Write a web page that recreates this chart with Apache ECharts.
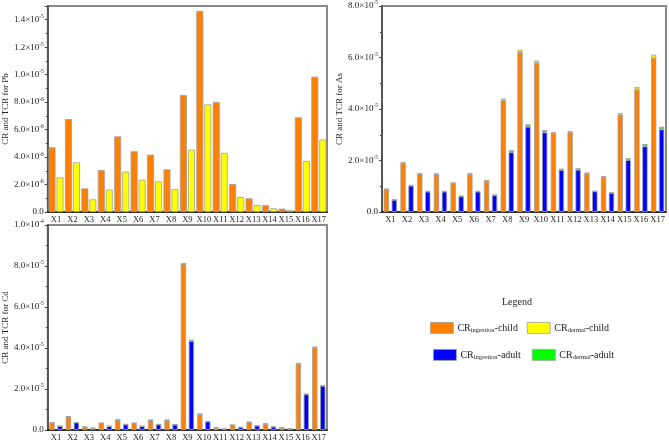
<!DOCTYPE html>
<html>
<head>
<meta charset="utf-8">
<script src="https://cdn.jsdelivr.net/npm/echarts@6/dist/echarts.min.js"></script>
<style>html,body{margin:0;padding:0;background:#fff}#c{width:669px;height:442px}</style>
</head>
<body>
<div id="c"></div>
<script>
var categories = ['X1','X2','X3','X4','X5','X6','X7','X8','X9','X10','X11','X12','X13','X14','X15','X16','X17'];

// Pb (two side-by-side bars)
var pbIngChild = [4.71e-6,6.77e-6,1.72e-6,3.06e-6,5.51e-6,4.42e-6,4.17e-6,3.11e-6,8.52e-6,1.464e-5,8.01e-6,2.04e-6,1.00e-6,0.49e-6,0.24e-6,6.89e-6,9.85e-6];
var pbDermChild = [2.52e-6,3.62e-6,0.92e-6,1.63e-6,2.94e-6,2.35e-6,2.23e-6,1.67e-6,4.54e-6,7.84e-6,4.30e-6,1.09e-6,0.51e-6,0.27e-6,0.15e-6,3.71e-6,5.27e-6];

// As (stacked)
var asIngChild  = [0.88e-5,1.90e-5,1.48e-5,1.47e-5,1.12e-5,1.48e-5,1.21e-5,4.34e-5,6.21e-5,5.79e-5,3.07e-5,3.10e-5,1.50e-5,1.37e-5,3.78e-5,4.76e-5,5.99e-5];
var asDermChild = [0.02e-5,0.03e-5,0.02e-5,0.02e-5,0.02e-5,0.02e-5,0.02e-5,0.06e-5,0.09e-5,0.09e-5,0.03e-5,0.03e-5,0.02e-5,0.02e-5,0.06e-5,0.09e-5,0.12e-5];
var asIngAdult  = [0.47e-5,1.02e-5,0.79e-5,0.79e-5,0.61e-5,0.79e-5,0.65e-5,2.32e-5,3.31e-5,3.09e-5,1.63e-5,1.64e-5,0.80e-5,0.74e-5,2.02e-5,2.55e-5,3.21e-5];
var asDermAdult = [0.02e-5,0.03e-5,0.02e-5,0.02e-5,0.02e-5,0.02e-5,0.02e-5,0.08e-5,0.10e-5,0.09e-5,0.05e-5,0.06e-5,0.02e-5,0.02e-5,0.07e-5,0.09e-5,0.10e-5];

// Cd (stacked)
var cdIngChild  = [0.35e-5,0.65e-5,0.15e-5,0.33e-5,0.49e-5,0.33e-5,0.48e-5,0.48e-5,8.10e-5,0.77e-5,0.11e-5,0.24e-5,0.38e-5,0.30e-5,0.11e-5,3.22e-5,4.03e-5];
var cdDermChild = [0.01e-5,0.01e-5,0.005e-5,0.01e-5,0.01e-5,0.01e-5,0.01e-5,0.01e-5,0.04e-5,0.01e-5,0.005e-5,0.005e-5,0.01e-5,0.01e-5,0.005e-5,0.03e-5,0.03e-5];
var cdIngAdult  = [0.19e-5,0.36e-5,0.09e-5,0.18e-5,0.27e-5,0.18e-5,0.27e-5,0.26e-5,4.34e-5,0.41e-5,0.06e-5,0.13e-5,0.21e-5,0.16e-5,0.06e-5,1.74e-5,2.15e-5];
var cdDermAdult = [0.01e-5,0.01e-5,0.005e-5,0.01e-5,0.01e-5,0.01e-5,0.01e-5,0.01e-5,0.07e-5,0.01e-5,0.005e-5,0.005e-5,0.01e-5,0.01e-5,0.005e-5,0.03e-5,0.04e-5];

// tick labels: [mantissa, exponent]
var pbTicks = [['0.0',''],['2.0×10','-6'],['4.0×10','-6'],['6.0×10','-6'],['8.0×10','-6'],['1.0×10','-5'],['1.2×10','-5'],['1.4×10','-5']];
var asTicks = [['0.0',''],['2.0×10','-5'],['4.0×10','-5'],['6.0×10','-5'],['8.0×10','-5']];
var cdTicks = [['0.0',''],['2.0×10','-5'],['4.0×10','-5'],['6.0×10','-5'],['8.0×10','-5'],['1.0×10','-4']];

var seriesNames = ['CR_ingestion-child','CR_dermal-child','CR_ingestion-adult','CR_dermal-adult'];
var legendLabels = {
  'CR_ingestion-child': '{m|CR}{s|ingestion}{m|-child}',
  'CR_dermal-child': '{m|CR}{s|dermal}{m|-child}',
  'CR_ingestion-adult': '{m|CR}{s|ingestion}{m|-adult}',
  'CR_dermal-adult': '{m|CR}{s|dermal}{m|-adult}'
};
var colors = {'CR_ingestion-child':'#FF8000','CR_dermal-child':'#FFFF00','CR_ingestion-adult':'#0000FF','CR_dermal-adult':'#00FF00'};

var FONT = '"Liberation Serif", "Times New Roman", serif';
var tickRich = {
  m: {fontFamily: FONT, fontSize: 9, color: '#222'},
  e: {fontFamily: FONT, fontSize: 5.5, color: '#222', verticalAlign: 'top', padding: [0,0,6,0]}
};
function tickFmt(ticks, interval) {
  return function (v) {
    var i = Math.round(v / interval);
    if (Math.abs(v - i * interval) > interval * 1e-3 || i >= ticks.length) return '';
    var t = ticks[i];
    return t[1] ? '{m|' + t[0] + '}{e|' + t[1] + '}' : '{m|' + t[0] + '}';
  };
}

var grids = [
  {left: 42, top: 6, width: 285, height: 206},
  {left: 382, top: 5, width: 284, height: 207},
  {left: 42, top: 225, width: 285, height: 206}
];
grids.forEach(function (g) { g.show = true; g.borderColor = '#888'; g.borderWidth = 2; g.backgroundColor = 'transparent'; });

function xAx(i) {
  return {
    type: 'category', gridIndex: i, data: categories,
    axisLine: {lineStyle: {color: '#111', width: 1.5}},
    axisTick: {show: false},
    axisLabel: {fontFamily: FONT, fontSize: 8.5, color: '#222', margin: 3, interval: 0}
  };
}
function yAx(i, max, interval, ticks, name, nameGap) {
  return {
    type: 'value', gridIndex: i, min: 0, max: max, interval: interval,
    name: name, nameLocation: 'middle', nameGap: nameGap,
    nameTextStyle: {fontFamily: FONT, fontSize: 9, color: '#222'},
    axisLine: {show: true, lineStyle: {color: '#444', width: 1.5}},
    axisTick: {show: true, length: 3, lineStyle: {color: '#444'}},
    minorTick: {show: true, splitNumber: 2, length: 2, lineStyle: {color: '#444'}},
    splitLine: {show: false},
    axisLabel: {formatter: tickFmt(ticks, interval), rich: tickRich, margin: 4}
  };
}

var border = {borderColor: '#a0a0a0', borderWidth: 0.8};
function bar(name, xi, data, stack, bw, gap) {
  var s = {
    name: name, type: 'bar', xAxisIndex: xi, yAxisIndex: xi, data: data,
    barWidth: bw, barGap: gap,
    itemStyle: Object.assign({color: colors[name]}, border)
  };
  if (stack) s.stack = stack;
  return s;
}

var series = [
  bar('CR_ingestion-child', 0, pbIngChild, null, 7, '14%'),
  bar('CR_dermal-child', 0, pbDermChild, null, 7, '14%'),

  bar('CR_ingestion-child', 1, asIngChild, 'asC', 5.3, '50%'),
  bar('CR_dermal-child', 1, asDermChild, 'asC', 5.3, '50%'),
  bar('CR_ingestion-adult', 1, asIngAdult, 'asA', 5.3, '50%'),
  bar('CR_dermal-adult', 1, asDermAdult, 'asA', 5.3, '50%'),

  bar('CR_ingestion-child', 2, cdIngChild, 'cdC', 5.3, '50%'),
  bar('CR_dermal-child', 2, cdDermChild, 'cdC', 5.3, '50%'),
  bar('CR_ingestion-adult', 2, cdIngAdult, 'cdA', 5.3, '50%'),
  bar('CR_dermal-adult', 2, cdDermAdult, 'cdA', 5.3, '50%')
];

var legendRich = {
  m: {fontFamily: FONT, fontSize: 10, color: '#222'},
  s: {fontFamily: FONT, fontSize: 6.5, color: '#222', verticalAlign: 'bottom', padding: [5,0,0,0]}
};
function legend(names, left, top, gap) {
  return {
    data: names, left: left, top: top, orient: 'horizontal',
    itemWidth: 23, itemHeight: 11, itemGap: gap,
    icon: 'rect', selectedMode: false,
    formatter: function (n) { return legendLabels[n]; },
    textStyle: {rich: legendRich, padding: [0,0,0,-1]},
    itemStyle: {borderColor: '#a0a0a0', borderWidth: 0.8}
  };
}

var chart = echarts.init(document.getElementById('c'), null, {renderer: 'canvas'});
chart.setOption({
  animation: false,
  backgroundColor: '#fff',
  grid: grids,
  xAxis: [xAx(0), xAx(1), xAx(2)],
  yAxis: [
    yAx(0, 1.5e-5, 2e-6, pbTicks, 'CR and TCR for Pb', 32),
    yAx(1, 8e-5, 2e-5, asTicks, 'CR and TCR for As', 34),
    yAx(2, 1e-4, 2e-5, cdTicks, 'CR and TCR for Cd', 32)
  ],
  legend: [
    legend([seriesNames[0], seriesNames[1]], 425, 317, 9),
    legend([seriesNames[2], seriesNames[3]], 428, 344, 11)
  ],
  graphic: [{
    type: 'text', left: 502, top: 297,
    style: {text: 'Legend', font: '10px ' + FONT, fill: '#222'}
  }],
  series: series
});
</script>
</body>
</html>
